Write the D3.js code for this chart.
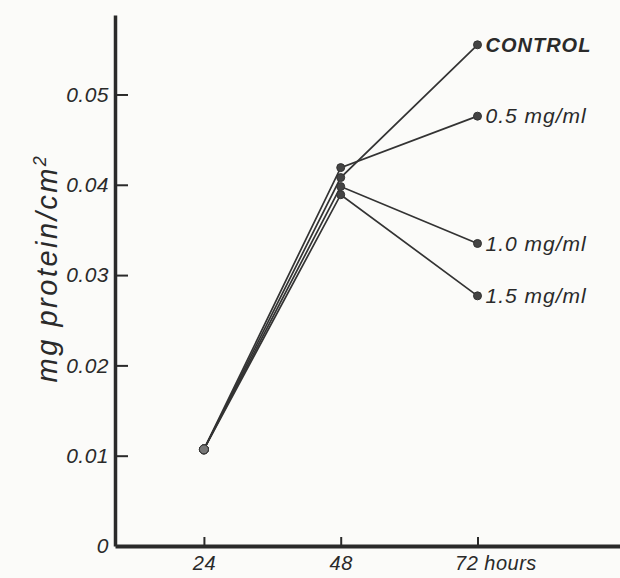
<!DOCTYPE html>
<html>
<head>
<meta charset="utf-8">
<script src="https://cdn.jsdelivr.net/npm/d3@7"></script>
<style>
  body { margin: 0; background: #fbfbf9; }
  svg { display: block; }
  text { font-family: "Liberation Sans", Arial, sans-serif; font-style: italic; fill: #2a2a2a; }
</style>
</head>
<body>
<script>
// sampling times (hours)
var hours = [24, 48, 72];
// mg protein / cm2
var control = [0.0107, 0.0408, 0.0555];
var conc05 = [0.0107, 0.0419, 0.0476];
var conc10 = [0.0107, 0.0398, 0.0335];
var conc15 = [0.0107, 0.0389, 0.0277];
var seriesNames = ["CONTROL", "0.5 mg/ml", "1.0 mg/ml", "1.5 mg/ml"];
var yTicks = [0, 0.01, 0.02, 0.03, 0.04, 0.05];
var xTicks = [24, 48, 72];

var series = [control, conc05, conc10, conc15].map(function(vals, i) {
    return { name: seriesNames[i], values: vals };
});

var width = 620, height = 578;

var svg = d3.select("body").append("svg")
    .attr("width", width)
    .attr("height", height);

// axis runs a bit past the data on both ends
var x = d3.scaleLinear().domain([8.4, 97]).range([115, 620]);
var y = d3.scaleLinear().domain([0, 0.0588]).range([546, 15]);

var yAxis = d3.axisLeft(y)
    .tickValues(yTicks)
    .tickSizeInner(-13)
    .tickSizeOuter(0)
    .tickPadding(6)
    .tickFormat(function(d) { return d === 0 ? "0" : d3.format(".2f")(d); });

var xAxis = d3.axisBottom(x)
    .tickValues(xTicks)
    .tickSizeInner(-9)
    .tickSizeOuter(0)
    .tickPadding(10)
    .tickFormat(function(d) { return d === 72 ? "72 hours" : d; });

var gy = svg.append("g")
    .attr("transform", "translate(" + x.range()[0] + ",0)")
    .call(yAxis);
gy.selectAll("text").style("font-size", "21px").style("letter-spacing", "0.5px");
gy.selectAll(".tick line").attr("stroke", "#2a2a2a").attr("stroke-width", 2)
    .filter(function(d) { return d === 0; }).remove();
gy.select(".domain").attr("stroke", "#2a2a2a").attr("stroke-width", 3.5);

var gx = svg.append("g")
    .attr("transform", "translate(0," + y.range()[0] + ")")
    .call(xAxis);
gx.selectAll("text").style("font-size", "20px").style("letter-spacing", "0.5px")
    .filter(function(d) { return d === 72; })
    .attr("text-anchor", "start")
    .attr("dx", "-23");
gx.selectAll(".tick line").attr("stroke", "#2a2a2a").attr("stroke-width", 2);
gx.select(".domain").attr("stroke", "#2a2a2a").attr("stroke-width", 4);

// lines
var line = d3.line()
    .x(function(d, i) { return x(hours[i]); })
    .y(function(d) { return y(d); });

svg.selectAll(".series")
    .data(series)
    .enter()
    .append("path")
    .attr("class", "series")
    .attr("d", function(s) { return line(s.values); })
    .attr("fill", "none")
    .attr("stroke", "#333")
    .attr("stroke-width", 1.7);

// dots
series.forEach(function(s) {
    svg.selectAll(null)
        .data(s.values)
        .enter()
        .append("circle")
        .attr("cx", function(d, i) { return x(hours[i]); })
        .attr("cy", function(d) { return y(d); })
        .attr("r", function(d, i) { return i === 0 ? 4.5 : 4; })
        .attr("fill", function(d, i) { return i === 0 ? "#777" : "#444"; })
        .attr("stroke", "#333")
        .attr("stroke-width", 1);
});

// end labels
svg.selectAll(".lbl")
    .data(series)
    .enter()
    .append("text")
    .attr("class", "lbl")
    .attr("x", x(hours[2]) + 8)
    .attr("y", function(s) { return y(s.values[2]); })
    .attr("dy", "0.35em")
    .style("font-size", function(s, i) { return i === 0 ? "20px" : "21px"; })
    .style("font-weight", function(s, i) { return i === 0 ? "bold" : "normal"; })
    .style("letter-spacing", "1px")
    .text(function(s) { return s.name; });

// y axis title
var title = svg.append("text")
    .attr("transform", "translate(57,268) rotate(-90)")
    .attr("text-anchor", "middle")
    .style("font-size", "29px")
    .style("letter-spacing", "2.5px")
    .text("mg protein/cm");
title.append("tspan")
    .attr("dy", "-0.6em")
    .style("font-size", "18px")
    .text("2");
</script>
</body>
</html>
